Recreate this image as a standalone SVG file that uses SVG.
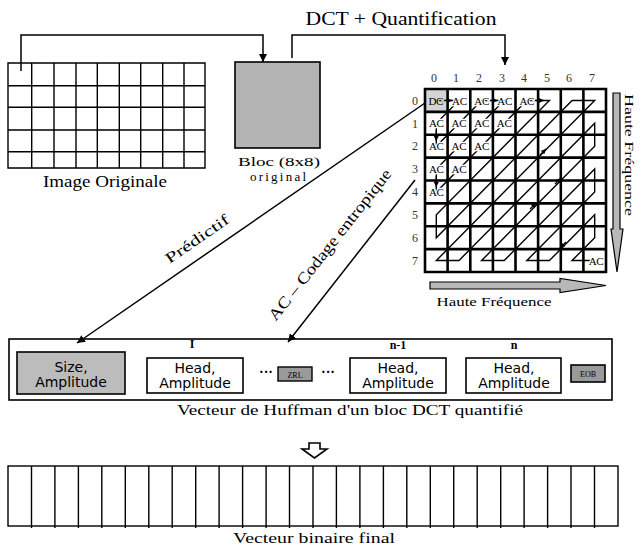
<svg xmlns="http://www.w3.org/2000/svg" width="640" height="550" viewBox="0 0 640 550">
<defs>
<style>
.ser{font-family:"Liberation Serif","Times New Roman",serif;fill:#000}
.san{font-family:"DejaVu Sans","Liberation Sans",sans-serif;font-size:14px;fill:#000;text-anchor:middle}
.ln{stroke:#000;stroke-width:1.5;fill:none}
.grid{stroke:#000;stroke-width:2.6;fill:none}
.thin{stroke:#000;stroke-width:1.4;fill:none}
.ac{font-family:"Liberation Serif",serif;font-size:11px;text-anchor:middle;fill:#000;stroke:#fff;stroke-width:2.5px;paint-order:stroke;letter-spacing:-0.3px}
.lbl{font-family:"Liberation Serif",serif;font-size:12px;text-anchor:middle;fill:#333}
</style>
<marker id="arr" viewBox="0 0 10 10" refX="10" refY="5" markerWidth="8" markerHeight="8" markerUnits="userSpaceOnUse" orient="auto">
<path d="M0,0 L10,5 L0,10 z" fill="#000"/>
</marker>
<marker id="sarr" viewBox="0 0 10 10" refX="10" refY="5" markerWidth="5" markerHeight="5" markerUnits="userSpaceOnUse" orient="auto">
<path d="M0,0 L10,5 L0,10 z" fill="#000"/>
</marker>
</defs>
<rect width="640" height="550" fill="#fff"/>

<!-- Image originale -->
<g id="image-originale">
<path class="thin" d="M8,63H205V168H8Z M31.7,63V168 M54,63V168 M76,63V168 M97.3,63V168 M119.3,63V168 M140.7,63V168 M162.7,63V168 M184,63V168 M8,85.7H205 M8,107.3H205 M8,130H205 M8,151.7H205" stroke-width="1.6"/>
<text class="ser" x="105" y="187" font-size="16" text-anchor="middle" textLength="124" lengthAdjust="spacingAndGlyphs">Image Originale</text>
</g>

<!-- Bloc -->
<g id="bloc">
<rect x="235" y="62" width="85" height="86" fill="#b4b4b4" stroke="#000" stroke-width="1.6"/>
<text class="ser" x="279" y="166" font-size="13" text-anchor="middle" textLength="82" lengthAdjust="spacingAndGlyphs">Bloc (8x8)</text>
<text class="ser" x="278" y="181" font-size="13" text-anchor="middle" textLength="56" lengthAdjust="spacing">original</text>
</g>

<!-- DCT label -->
<g id="dct-label">
<text class="ser" x="401" y="25" font-size="19" text-anchor="middle" textLength="191" lengthAdjust="spacingAndGlyphs">DCT + Quantification</text>
</g>

<!-- Quantified 8x8 matrix -->
<g id="matrice">
<rect x="425" y="89" width="22.6" height="22.9" fill="#d4d4d4"/>
<g class="lbl">
<text x="434" y="82">0</text><text x="456" y="82">1</text><text x="479" y="82">2</text><text x="502" y="82">3</text><text x="524" y="82">4</text><text x="547" y="82">5</text><text x="569" y="82">6</text><text x="592" y="82">7</text>
<text x="415" y="105">0</text><text x="415" y="128">1</text><text x="415" y="150">2</text><text x="415" y="173">3</text><text x="415" y="196">4</text><text x="415" y="219">5</text><text x="415" y="242">6</text><text x="415" y="265">7</text>
</g>
<polyline class="thin" stroke-width="1.3" points="436.31,100.44 458.94,100.44 436.31,123.31 436.31,146.19 481.56,100.44 504.19,100.44 436.31,169.06 436.31,191.94 526.81,100.44 549.44,100.44 436.31,214.81 436.31,237.69 572.06,100.44 594.69,100.44 436.31,260.56 458.94,260.56 594.69,123.31 594.69,146.19 481.56,260.56 504.19,260.56 594.69,169.06 594.69,191.94 526.81,260.56 549.44,260.56 594.69,214.81 594.69,237.69 572.06,260.56 594.69,260.56"/>
<g stroke="#000" stroke-width="1.3">
<line x1="436.31" y1="130" x2="436.31" y2="141" marker-end="url(#sarr)"/>
<line x1="436.31" y1="176" x2="436.31" y2="187" marker-end="url(#sarr)"/>
<line x1="540" y1="155" x2="546" y2="149" marker-end="url(#sarr)"/>
<line x1="555" y1="184" x2="561" y2="178" marker-end="url(#sarr)"/>
<line x1="530" y1="209" x2="536" y2="203" marker-end="url(#sarr)"/>
<line x1="566" y1="242" x2="560" y2="248" marker-end="url(#sarr)"/>
</g>
<g class="ac">
<text x="435.8" y="104.5" style="stroke:#d4d4d4">DC</text>
<text x="459.4" y="104.5">AC</text><text x="481.6" y="104.5">AC</text><text x="504.6" y="104.5">AC</text><text x="526.8" y="104.5">AC</text>
<text x="436.3" y="127.3">AC</text><text x="458.9" y="127.3">AC</text><text x="481.6" y="127.3">AC</text><text x="504.2" y="127.3">AC</text>
<text x="436.3" y="150.2">AC</text><text x="458.9" y="150.2">AC</text><text x="481.6" y="150.2">AC</text>
<text x="436.3" y="173">AC</text><text x="458.9" y="173">AC</text>
<text x="436.3" y="196">AC</text>
<text x="596" y="264.5">AC</text>
</g>
<g stroke="#000" stroke-width="1.3">
<line x1="445" y1="100.44" x2="452" y2="100.44" marker-end="url(#sarr)"/>
<line x1="490" y1="100.44" x2="497.5" y2="100.44" marker-end="url(#sarr)"/>
<line x1="535" y1="100.44" x2="544" y2="100.44" marker-end="url(#sarr)"/>
</g>
<path class="grid" d="M425,89H606V272H425Z M447.6,89V272 M470.3,89V272 M492.9,89V272 M515.5,89V272 M538.1,89V272 M560.8,89V272 M583.4,89V272 M425,111.9H606 M425,134.8H606 M425,157.6H606 M425,180.5H606 M425,203.4H606 M425,226.3H606 M425,249.1H606"/>
</g>

<!-- frequency arrows -->
<g id="freq-vertical">
<path d="M613,93H620V229H623L617,272L611,229H613Z" fill="#b8b8b8" stroke="#000" stroke-width="1.2"/>
<text class="ser" font-size="13" transform="translate(625,94) rotate(90)" textLength="122" lengthAdjust="spacingAndGlyphs">Haute Fréquence</text>
</g>
<g id="freq-horizontal">
<path d="M430,282H560V278.5L606,285.5L560,292.5V289H430Z" fill="#b8b8b8" stroke="#000" stroke-width="1.2"/>
<text class="ser" x="494" y="306" font-size="13" text-anchor="middle" textLength="115" lengthAdjust="spacingAndGlyphs">Haute Fréquence</text>
</g>

<!-- Huffman vector -->
<g id="vecteur-huffman">
<rect x="9" y="339" width="603" height="61" fill="none" stroke="#000" stroke-width="1.6"/>
<text class="ser" x="350" y="415" font-size="15" text-anchor="middle" textLength="346" lengthAdjust="spacingAndGlyphs">Vecteur de Huffman d'un bloc DCT quantifié</text>
</g>
<g id="size-amplitude">
<rect x="17" y="352" width="108" height="42" fill="#bcbcbc" stroke="#000" stroke-width="1.6"/>
<text class="san" x="71" y="372">Size,</text>
<text class="san" x="71" y="387">Amplitude</text>
</g>
<g id="head-1">
<text class="ser" x="192" y="348" font-size="12" font-weight="bold" text-anchor="middle">I</text>
<rect x="147" y="358" width="96" height="35" fill="#fff" stroke="#000" stroke-width="1.6"/>
<text class="san" x="195" y="373">Head,</text>
<text class="san" x="195" y="388">Amplitude</text>
</g>
<g id="zrl">
<text class="ser" x="266" y="377" font-size="14" text-anchor="middle" font-weight="bold">···</text>
<rect x="278" y="367" width="34" height="14" fill="#9a9a9a" stroke="#000" stroke-width="1.4"/>
<text class="ser" x="295" y="377.5" font-size="8" text-anchor="middle" fill="#222">ZRL</text>
<text class="ser" x="328" y="377" font-size="14" text-anchor="middle" font-weight="bold">···</text>
</g>
<g id="head-n-1">
<text class="ser" x="398" y="349" font-size="12" font-weight="bold" text-anchor="middle">n-1</text>
<rect x="350" y="358" width="96" height="35" fill="#fff" stroke="#000" stroke-width="1.6"/>
<text class="san" x="398" y="373">Head,</text>
<text class="san" x="398" y="388">Amplitude</text>
</g>
<g id="head-n">
<text class="ser" x="514" y="349" font-size="12" font-weight="bold" text-anchor="middle">n</text>
<rect x="466" y="358" width="95" height="35" fill="#fff" stroke="#000" stroke-width="1.6"/>
<text class="san" x="514" y="373">Head,</text>
<text class="san" x="514" y="388">Amplitude</text>
</g>
<g id="eob">
<rect x="571" y="365" width="34" height="17" fill="#9a9a9a" stroke="#000" stroke-width="1.6"/>
<text class="ser" x="588" y="377" font-size="8" text-anchor="middle" fill="#222">EOB</text>
</g>

<!-- Final binary vector -->
<g id="fleche-bas">
<path d="M309,443H320V449H327L314.5,458L302,449H309Z" fill="#fff" stroke="#000" stroke-width="1.6"/>
</g>
<g id="vecteur-binaire">
<rect x="8" y="466" width="610" height="60" fill="none" stroke="#000" stroke-width="1.4"/>
<path stroke="#000" stroke-width="1.4" d="M31.5,466V528 M54.9,466V528 M78.4,466V528 M101.8,466V528 M125.3,466V528 M148.8,466V528 M172.2,466V528 M195.7,466V528 M219.1,466V528 M242.6,466V528 M266.1,466V528 M289.5,466V528 M313,466V528 M336.4,466V528 M359.9,466V528 M383.4,466V528 M406.8,466V528 M430.3,466V528 M453.7,466V528 M477.2,466V528 M500.7,466V528 M524.1,466V528 M547.6,466V528 M571,466V528 M594.5,466V528"/>
<text class="ser" x="314" y="543" font-size="15" text-anchor="middle" textLength="162" lengthAdjust="spacingAndGlyphs">Vecteur binaire final</text>
</g>

<!-- connectors -->
<g id="connecteurs">
<polyline class="ln" points="21,71 21,35 263,35 263,62" marker-end="url(#arr)"/>
<polyline class="ln" points="292,58 292,35 505,35 505,65" marker-end="url(#arr)"/>
<line class="ln" x1="425" y1="103" x2="77" y2="343" marker-end="url(#arr)"/>
<line class="ln" x1="415" y1="180" x2="288" y2="342" marker-end="url(#arr)"/>
<text class="ser" font-size="15" transform="translate(200,243) rotate(-34.6)" text-anchor="middle" textLength="74" lengthAdjust="spacingAndGlyphs">Prédictif</text>
<text class="ser" font-size="16" transform="translate(334,248) rotate(-51.7)" text-anchor="middle" textLength="188" lengthAdjust="spacingAndGlyphs">AC – Codage entropique</text>
</g>
</svg>
